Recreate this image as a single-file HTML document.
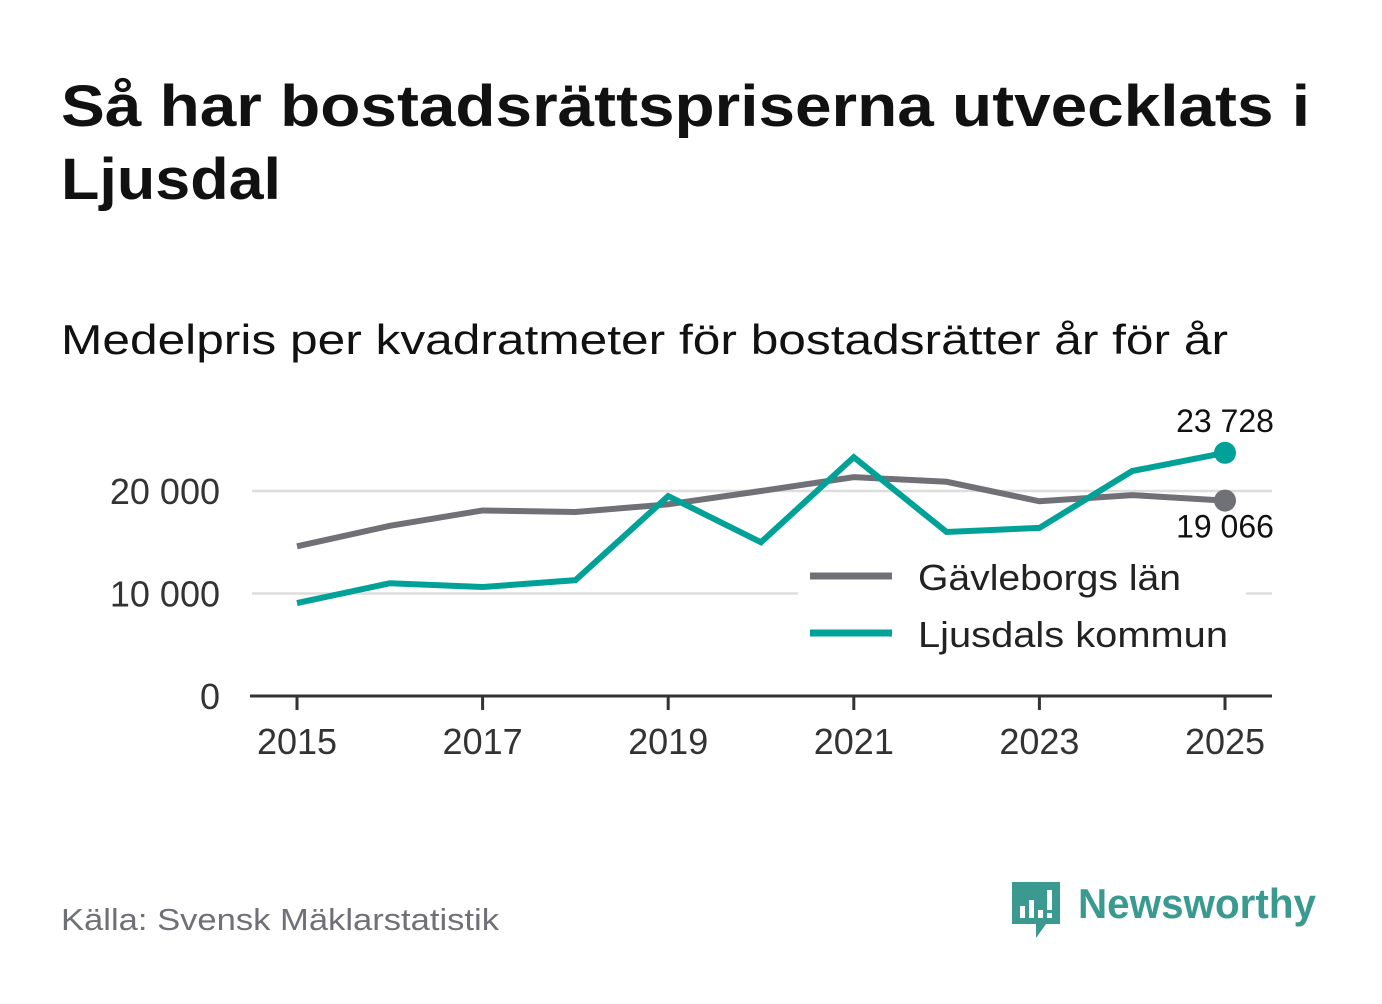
<!DOCTYPE html>
<html><head><meta charset="utf-8"><style>
body{margin:0;background:#fff;width:1382px;height:999px;overflow:hidden;font-family:"Liberation Sans","DejaVu Sans",sans-serif;}
</style></head><body>
<svg width="1382" height="999" viewBox="0 0 1382 999" xmlns="http://www.w3.org/2000/svg">
<text x="61" y="126" font-size="58" font-weight="bold" fill="#111" textLength="1249" lengthAdjust="spacingAndGlyphs">Så har bostadsrättspriserna utvecklats i</text>
<text x="61" y="199" font-size="58" font-weight="bold" fill="#111" textLength="220" lengthAdjust="spacingAndGlyphs">Ljusdal</text>
<text x="61" y="354" font-size="42" fill="#111" textLength="1167" lengthAdjust="spacingAndGlyphs">Medelpris per kvadratmeter för bostadsrätter år för år</text>
<g id="grid"></g>
<g id="yt"></g>
<g id="xt"></g>
<g id="series"></g>
<g>
<rect x="798" y="550" width="448" height="112" fill="#fff"/>
<line x1="810" y1="576" x2="892" y2="576" stroke="#707077" stroke-width="7"/>
<text x="918" y="590" font-size="36" fill="#222" textLength="263" lengthAdjust="spacingAndGlyphs">Gävleborgs län</text>
<line x1="810" y1="633" x2="892" y2="633" stroke="#00a298" stroke-width="7"/>
<text x="918" y="647" font-size="36" fill="#222" textLength="310" lengthAdjust="spacingAndGlyphs">Ljusdals kommun</text>
</g>
<text x="61" y="930" font-size="31" fill="#707077" textLength="438" lengthAdjust="spacingAndGlyphs">Källa: Svensk Mäklarstatistik</text>
<g>
<path d="M1012 882 h48 v42 h-14 l-10 14 v-14 h-24 z" fill="#3a9a90"/>
<rect x="1020" y="906" width="5" height="12" fill="#fff"/><rect x="1029" y="900" width="5" height="18" fill="#fff"/><rect x="1038" y="910" width="5" height="8" fill="#fff"/><rect x="1047" y="890" width="5" height="20" fill="#fff"/><rect x="1047" y="913" width="5" height="5" fill="#fff"/>
<text x="1078" y="918" font-size="42" font-weight="bold" fill="#3a9a90" textLength="238" lengthAdjust="spacingAndGlyphs">Newsworthy</text>
</g>
</svg>
<script>
const years=[2015,2016,2017,2018,2019,2020,2021,2022,2023,2024,2025];
const gavleborg=[14600,16600,18100,17950,18700,20000,21350,20900,19000,19600,19066];
const ljusdal=[9070,11000,10630,11300,19500,15000,23300,16000,16400,21950,23728];
const yTicks=[0,10000,20000];
const yTickLabels=["0","10 000","20 000"];
const xTicks=[2015,2017,2019,2021,2023,2025];
const NS="http://www.w3.org/2000/svg";
const x=v=>297+(v-2015)*92.8;
const y=v=>696-v*0.01025;
function mk(t,a,p){const e=document.createElementNS(NS,t);for(const k in a)e.setAttribute(k,a[k]);p.appendChild(e);return e;}
const grid=document.getElementById('grid'),yt=document.getElementById('yt'),xt=document.getElementById('xt'),ser=document.getElementById('series');
yTicks.forEach((v,i)=>{
 if(v>0){const g=mk('line',{x1:252,x2:1272,y1:y(v),y2:y(v),stroke:'#ddd','stroke-width':2.5},grid);
 
 }
 const t=mk('text',{x:220,y:y(v)+13,'font-size':36,fill:'#333','text-anchor':'end'},yt);t.textContent=yTickLabels[i];
 
 
});
const ax=mk('line',{x1:250,x2:1272,y1:696,y2:696,stroke:'#333','stroke-width':3},xt);


xTicks.forEach(v=>{
 mk('line',{x1:x(v),x2:x(v),y1:696,y2:710,stroke:'#333','stroke-width':3},xt);
 const t=mk('text',{x:x(v),y:754,'font-size':36,fill:'#333','text-anchor':'middle'},xt);t.textContent=v;
 
 
});
function line(vals,col,name){
 const p=mk('polyline',{points:vals.map((v,i)=>x(years[i])+','+y(v)).join(' '),fill:'none',stroke:col,'stroke-width':6,'stroke-linejoin':'miter'},ser);
 
 
 const l=vals.length-1;
 const c=mk('circle',{cx:x(years[l]),cy:y(vals[l]),r:11,fill:col},ser);
 
 
}
line(gavleborg,'#707077','gavleborg');
line(ljusdal,'#00a298','ljusdal');
const fmt=v=>Math.round(v).toString().replace(/\B(?=(\d{3})+$)/g,' ');
const l=years.length-1;
const a=mk('text',{x:1225,y:y(ljusdal[l])-21,'font-size':32,fill:'#111','text-anchor':'middle'},ser);a.textContent=fmt(ljusdal[l]);


const b=mk('text',{x:1225,y:y(gavleborg[l])+37,'font-size':32,fill:'#111','text-anchor':'middle'},ser);b.textContent=fmt(gavleborg[l]);


</script>
</body></html>
